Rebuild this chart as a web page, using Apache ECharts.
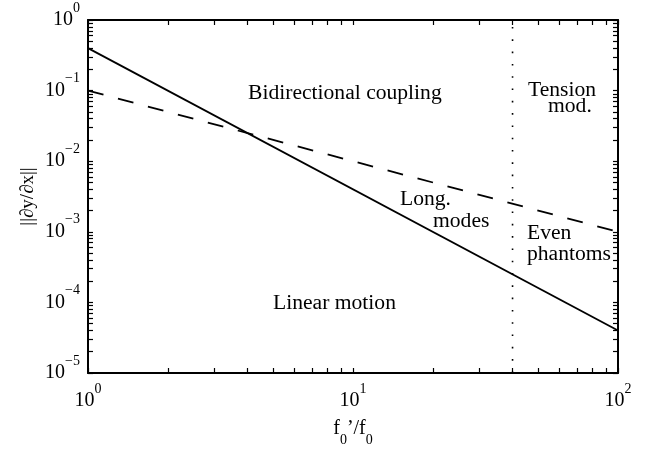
<!DOCTYPE html>
<html>
<head>
<meta charset="utf-8">
<script src="https://cdn.jsdelivr.net/npm/echarts@6/dist/echarts.min.js"></script>
<style>
html, body { margin: 0; padding: 0; background: #fff; }
#main { width: 653px; height: 450px; }
</style>
</head>
<body>
<div id="main"></div>
<script>
// boundaries between regimes
var ratio = [1, 100];                  // f0'/f0
var solidBound = [0.4, 4e-5];          // solid line
var dashedBound = [0.1, 1e-3];         // dashed line
var tensionRatio = 40;                 // dotted vertical line
var yRange = [1e-5, 1];

var xDecades = [1, 10, 100];
var yDecades = [1e-5, 1e-4, 1e-3, 1e-2, 1e-1, 1];
var mantissas = [1, 2, 3, 4, 5, 6, 7, 8, 9];

var FONT = '"Liberation Serif", "DejaVu Serif", serif';

function allTicks(decades) {
    var out = [];
    decades.forEach(function (d, i) {
        if (i == decades.length - 1) { out.push(d); return; }
        mantissas.forEach(function (m) { out.push(+(m * d).toPrecision(3)); });
    });
    return out;
}
var xTicks = allTicks(xDecades);
var yTicks = allTicks(yDecades);

function pow10(v) {
    var e = Math.round(Math.log10(v));
    return '{b|10}{s|' + (e < 0 ? '\u2212' + (-e) : e) + '}';
}

var labelRich = {
    b: { fontFamily: FONT, fontSize: 20, color: '#000', lineHeight: 20 },
    s: { fontFamily: FONT, fontSize: 14, color: '#000', lineHeight: 14, padding: [0, 0, 24, 0] }
};

var lineStyleAxis = { color: '#000', width: 2 };

function xAx(pos, showLabel) {
    return {
        type: 'log', logBase: 10, min: ratio[0], max: ratio[1], position: pos,
        axisLine: { show: true, onZero: false, lineStyle: lineStyleAxis },
        axisTick: { show: true, inside: true, length: 5, customValues: xTicks, lineStyle: { color: '#000', width: 1.2 } },
        minorTick: { show: false },
        splitLine: { show: false },
        axisLabel: { show: showLabel, customValues: xDecades, margin: 18, formatter: pow10, rich: labelRich },
        name: showLabel ? '{a|f}{u|0}{a|\u2019/f}{u|0}' : '',
        nameLocation: 'middle', nameGap: 46, nameMoveOverlap: false,
        nameTextStyle: {
            rich: {
                a: { fontFamily: FONT, fontSize: 20, color: '#000', lineHeight: 20 },
                u: { fontFamily: FONT, fontSize: 14, color: '#000', lineHeight: 14, padding: [22, 0, 0, 0] }
            }
        }
    };
}
function yAx(pos, showLabel) {
    return {
        type: 'log', logBase: 10, min: yRange[0], max: yRange[1], position: pos,
        axisLine: { show: true, onZero: false, lineStyle: lineStyleAxis },
        axisTick: { show: true, inside: true, length: 5, customValues: yTicks, lineStyle: { color: '#000', width: 1.2 } },
        minorTick: { show: false },
        splitLine: { show: false },
        axisLabel: { show: showLabel, customValues: yDecades, margin: 8, formatter: pow10, rich: labelRich },
        name: showLabel ? '||\u2202y/\u2202x||' : '',
        nameLocation: 'middle', nameGap: 50, nameMoveOverlap: false,
        nameTextStyle: { fontFamily: FONT, fontSize: 19, color: '#000' }
    };
}

function pairs(xs, ys) {
    return xs.map(function (x, i) { return [x, ys[i]]; });
}

function note(text, x, y) {
    return {
        type: 'text', left: x, top: y - 11,
        style: { text: text, font: '21.6px ' + FONT, fill: '#000' }
    };
}

var chart = echarts.init(document.getElementById('main'), null, { renderer: 'canvas' });
chart.setOption({
    animation: false,
    backgroundColor: '#fff',
    grid: { left: 88, right: 35, top: 20, bottom: 77, outerBoundsMode: 'none' },
    xAxis: [xAx('bottom', true), xAx('top', false)],
    yAxis: [yAx('left', true), yAx('right', false)],
    series: [
        {
            type: 'line', data: pairs(ratio, solidBound), showSymbol: false,
            lineStyle: { color: '#000', width: 1.8 }
        },
        {
            type: 'line', data: pairs(ratio, dashedBound), showSymbol: false,
            lineStyle: { color: '#000', width: 1.8, type: [16, 15] }
        },
        {
            type: 'line', data: pairs([tensionRatio, tensionRatio], yRange), showSymbol: false,
            lineStyle: { color: '#000', width: 1.6, type: [1.6, 10.7] }
        }
    ],
    graphic: [
        note('Bidirectional coupling', 248, 93),
        note('Tension', 528, 90),
        note('mod.', 548, 106),
        note('Long.', 400, 199),
        note('modes', 433, 221),
        note('Even', 527, 233),
        note('phantoms', 527, 254),
        note('Linear motion', 273, 303)
    ]
});
</script>
</body>
</html>
